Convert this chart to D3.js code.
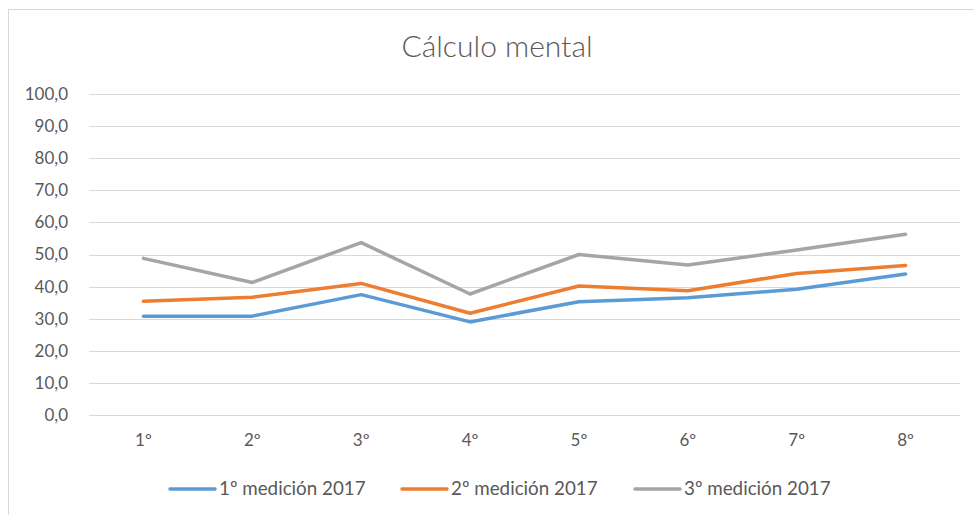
<!DOCTYPE html>
<html>
<head>
<meta charset="utf-8">
<script src="https://cdn.jsdelivr.net/npm/d3@7"></script>
<style>
  body { margin: 0; background: #fff; }
  svg { display: block; }
  text { font-family: Lato, "Liberation Sans", sans-serif; fill: #595959; }
</style>
</head>
<body>
<svg></svg>
<script>
var categories = ["1º", "2º", "3º", "4º", "5º", "6º", "7º", "8º"];
var seriesNames = ["1º medición 2017", "2º medición 2017", "3º medición 2017"];
var medicion1 = [30.8, 30.8, 37.5, 29.0, 35.3, 36.5, 39.2, 43.9];
var medicion2 = [35.4, 36.7, 41.0, 31.7, 40.2, 38.7, 44.1, 46.6];
var medicion3 = [48.8, 41.3, 53.7, 37.7, 50.0, 46.7, 51.4, 56.3];
var yTicks = [0, 10, 20, 30, 40, 50, 60, 70, 80, 90, 100];
var colors = ["#5B9BD5", "#ED7D31", "#A5A5A5"];

var viewWidth = 974;
var viewHeight = 515;
var plot = {left: 89, right: 960, top: 94, bottom: 415};

var svg = d3.select("svg")
    .attr("width", viewWidth)
    .attr("height", viewHeight);

// chart frame (runs off the right and bottom edge)
svg.append("rect")
  .attr("x", 8.5)
  .attr("y", 9.5)
  .attr("width", 1000)
  .attr("height", 600)
  .attr("fill", "none")
  .attr("stroke", "#d9d9d9");

svg.append("text")
  .attr("x", 497)
  .attr("y", 57)
  .attr("text-anchor", "middle")
  .style("font-size", "30px")
  .style("font-weight", 300)
  .text("Cálculo mental");

var xScale = d3.scaleBand()
  .domain(categories)
  .range([plot.left, plot.right]);
var yScale = d3.scaleLinear()
  .domain([0, 100])
  .range([plot.bottom, plot.top]);

var yAxis = d3.axisLeft(yScale)
  .tickValues(yTicks)
  .tickSize(-(plot.right - plot.left))
  .tickPadding(21)
  .tickFormat(function(d){ return d3.format(".1f")(d).replace(".", ","); });

var gy = svg.append("g")
  .attr("transform", "translate(" + plot.left + ",0)")
  .call(yAxis);
gy.select(".domain").remove();
gy.selectAll("line").attr("stroke", "#d9d9d9").attr("shape-rendering", "crispEdges");
gy.selectAll("text").style("font-size", "17px").style("font-family", "Lato, sans-serif").attr("fill", "#595959");

var xAxis = d3.axisBottom(xScale).tickSize(0).tickPadding(19);
var gx = svg.append("g")
  .attr("transform", "translate(0," + plot.bottom + ")")
  .call(xAxis);
gx.select(".domain").remove();
gx.selectAll("text").style("font-size", "17px").style("font-family", "Lato, sans-serif").attr("fill", "#595959");

var series = [medicion1, medicion2, medicion3];
var line = d3.line()
  .x(function(d, i){ return xScale(categories[i]) + xScale.bandwidth() / 2; })
  .y(function(d){ return yScale(d); });

svg.selectAll("path.serie")
  .data(series)
  .enter()
  .append("path")
  .attr("class", "serie")
  .attr("d", line)
  .attr("fill", "none")
  .attr("stroke", function(d, i){ return colors[i]; })
  .attr("stroke-width", 3.5)
  .attr("stroke-linejoin", "round")
  .attr("stroke-linecap", "round");

// legend
var legendX = [170, 402, 635];
var legend = svg.selectAll("g.legend")
  .data(seriesNames)
  .enter()
  .append("g")
  .attr("class", "legend")
  .attr("transform", function(d, i){ return "translate(" + legendX[i] + ",489)"; });
legend.append("line")
  .attr("x1", 0).attr("x2", 45)
  .attr("stroke", function(d, i){ return colors[i]; })
  .attr("stroke-width", 3.5)
  .attr("stroke-linecap", "round");
legend.append("text")
  .attr("x", 49)
  .attr("y", 6)
  .style("font-size", "18.8px")
  .text(function(d){ return d; });
</script>
</body>
</html>
